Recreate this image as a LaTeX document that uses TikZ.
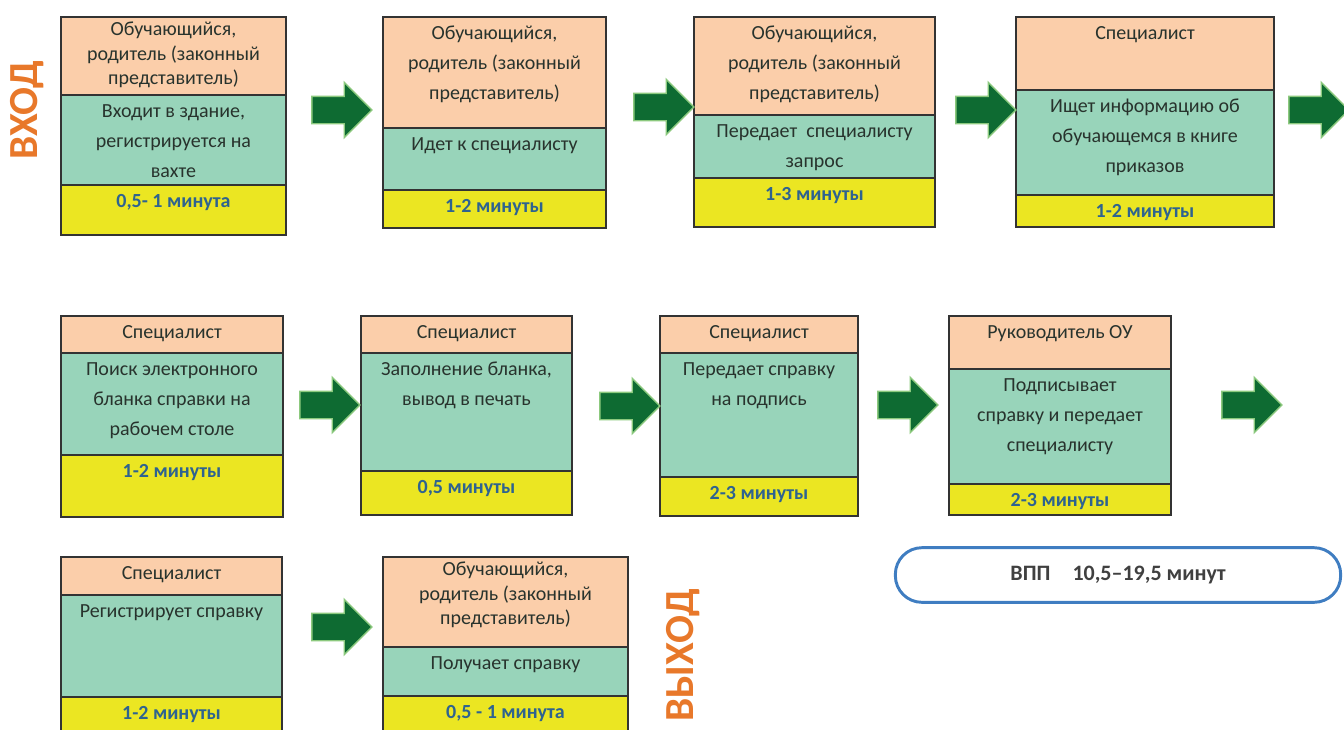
\documentclass[tikz,border=0pt]{standalone}
\usepackage{fontspec}
\setmainfont{Carlito}
\usetikzlibrary{shapes.arrows}
\definecolor{rolefill}{HTML}{FBCEAA}
\definecolor{actfill}{HTML}{98D4BA}
\definecolor{timefill}{HTML}{EBE622}
\definecolor{timetext}{HTML}{2E6390}
\definecolor{celltext}{HTML}{28332D}
\definecolor{arrowgreen}{HTML}{0E6B32}
\definecolor{arrowglow}{HTML}{8CC97E}
\definecolor{entryorange}{HTML}{E8782A}
\definecolor{vppblue}{HTML}{3F7DC1}
\newdimen\pxu \pxu=0.75pt
% cell text: optional line skip, width and height in px, text
\newcommand{\cellbox}[4][22.5pt]{\parbox[t][\dimexpr#3\pxu-2pt\relax][t]{#2\pxu}{\centering\fontsize{15pt}{#1}\selectfont\strut#4}}
\tikzset{
  cell/.style={draw=black!80, line width=1.4pt, inner xsep=0pt, inner ysep=1pt, outer sep=0pt, anchor=north west, text=celltext},
  rolecell/.style={cell, fill=rolefill},
  actcell/.style={cell, fill=actfill},
  timecell/.style={cell, fill=timefill, text=timetext, font=\bfseries},
  bigarrow/.style={single arrow, fill=arrowgreen, draw=arrowglow, line width=1pt, inner sep=9.75pt, minimum height=45pt, single arrow head extend=10.5pt},
  sidelabel/.style={rotate=90, text=entryorange, font=\fontsize{31pt}{31pt}\selectfont\bfseries},
}

\begin{document}
\begin{tikzpicture}[x=0.75pt, y=-0.75pt]
    \useasboundingbox (0,0) rectangle (1344,729);
    \node[sidelabel] (entry) at (27,110) {ВХОД};
    \node[sidelabel] (exit) at (683,655) {ВЫХОД};
    % first row
    \node[rolecell] (r1) at (61,17) {\cellbox[18.5pt]{225}{78}{Обучающийся,\\ родитель (законный\\ представитель)}};
    \node[actcell] (d1) at (r1.south west) {\cellbox{225}{90}{Входит в здание,\\ регистрируется на\\ вахте}};
    \node[timecell] (t1) at (d1.south west) {\cellbox{225}{50}{0,5- 1 минута}};
    \node[rolecell] (r2) at (383,17) {\cellbox{223}{111}{Обучающийся,\\ родитель (законный\\ представитель)}};
    \node[actcell] (d2) at (r2.south west) {\cellbox{223}{62}{Идет к специалисту}};
    \node[timecell] (t2) at (d2.south west) {\cellbox{223}{38}{1-2 минуты}};
    \node[rolecell] (r3) at (694,17) {\cellbox{241}{98}{Обучающийся,\\ родитель (законный\\ представитель)}};
    \node[actcell] (d3) at (r3.south west) {\cellbox{241}{63}{Передает\ \ специалисту\\ запрос}};
    \node[timecell] (t3) at (d3.south west) {\cellbox{241}{49}{1-3 минуты}};
    \node[rolecell] (r4) at (1016,17) {\cellbox{258}{73}{Специалист}};
    \node[actcell] (d4) at (r4.south west) {\cellbox{258}{105}{Ищет информацию об\\ обучающемся в книге\\ приказов}};
    \node[timecell] (t4) at (d4.south west) {\cellbox{258}{32}{1-2 минуты}};
    % second row
    \node[rolecell] (r5) at (61,316) {\cellbox{222}{37}{Специалист}};
    \node[actcell] (d5) at (r5.south west) {\cellbox{222}{102}{Поиск электронного\\ бланка справки на\\ рабочем столе}};
    \node[timecell] (t5) at (d5.south west) {\cellbox{222}{62}{1-2 минуты}};
    \node[rolecell] (r6) at (361,316) {\cellbox{211}{37}{Специалист}};
    \node[actcell] (d6) at (r6.south west) {\cellbox{211}{118}{Заполнение бланка,\\ вывод в печать}};
    \node[timecell] (t6) at (d6.south west) {\cellbox{211}{44}{0,5 минуты}};
    \node[rolecell] (r7) at (660,316) {\cellbox{198}{37}{Специалист}};
    \node[actcell] (d7) at (r7.south west) {\cellbox{198}{124}{Передает справку\\ на подпись}};
    \node[timecell] (t7) at (d7.south west) {\cellbox{198}{39}{2-3 минуты}};
    \node[rolecell] (r8) at (949,316) {\cellbox{222}{53}{Руководитель ОУ}};
    \node[actcell] (d8) at (r8.south west) {\cellbox{222}{115}{Подписывает\\ справку и передает\\ специалисту}};
    \node[timecell] (t8) at (d8.south west) {\cellbox{222}{31}{2-3 минуты}};
    % third row
    \node[rolecell] (r9) at (61,557) {\cellbox{221}{38}{Специалист}};
    \node[actcell] (d9) at (r9.south west) {\cellbox{221}{102}{Регистрирует справку}};
    \node[timecell] (t9) at (d9.south west) {\cellbox{221}{45}{1-2 минуты}};
    \node[rolecell] (r10) at (383,557) {\cellbox[18.5pt]{245}{90}{Обучающийся,\\ родитель (законный\\ представитель)}};
    \node[actcell] (d10) at (r10.south west) {\cellbox{245}{49}{Получает справку}};
    \node[timecell] (t10) at (d10.south west) {\cellbox{245}{45}{0,5 - 1 минута}};
    % arrows
    \node[bigarrow] (p1) at (335,110) {};
    \node[bigarrow] (p2) at (657,107) {};
    \node[bigarrow] (p3) at (979,110) {};
    \node[bigarrow] (p4) at (1312,110) {};
    \node[bigarrow] (p5) at (323,405) {};
    \node[bigarrow] (p6) at (623,406) {};
    \node[bigarrow] (p7) at (901,405) {};
    \node[bigarrow] (p8) at (1245,405) {};
    \node[bigarrow] (p9) at (335,627) {};
    % total time
    \node[draw=vppblue, line width=2.2pt, rounded corners=20pt, minimum width=334pt, minimum height=41pt,
        font=\fontsize{16.5pt}{20pt}\selectfont\bfseries, text=black!75] (vpp) at (1118,575) {ВПП\quad 10,5–19,5 минут};
\end{tikzpicture}
\end{document}
